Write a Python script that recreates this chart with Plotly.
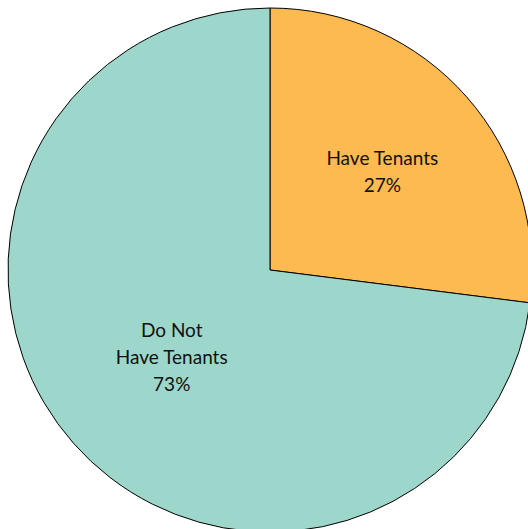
import plotly.graph_objects as go

labels = ["Have Tenants", "Do Not<br>Have Tenants"]
values = [27, 73]
colors = ["#FDBA50", "#9DD6CB"]

fig = go.Figure(go.Pie(
    labels=labels,
    values=values,
    sort=False,
    direction="clockwise",
    rotation=0,
    marker=dict(colors=colors, line=dict(color="#000000", width=1)),
    texttemplate=(
        "<span style='font-size:19px'>%{label}</span><br>"
        "<span style='font-size:19px'>%{percent:.0%}</span>"
    ),
    textposition="inside",
    insidetextorientation="horizontal",
    textfont=dict(family="Lato", size=21, color="#111111"),
    hoverinfo="label+percent",
    showlegend=False,
))

fig.update_layout(
    width=532,
    height=532,
    margin=dict(l=8, r=0, t=8, b=0),
    paper_bgcolor="white",
    plot_bgcolor="white",
)

fig.write_html(
    "out.html",
    config={"displayModeBar": False},
    post_script=(
        "document.body.style.margin='0';"
        "document.documentElement.style.overflow='hidden';"
    ),
)
